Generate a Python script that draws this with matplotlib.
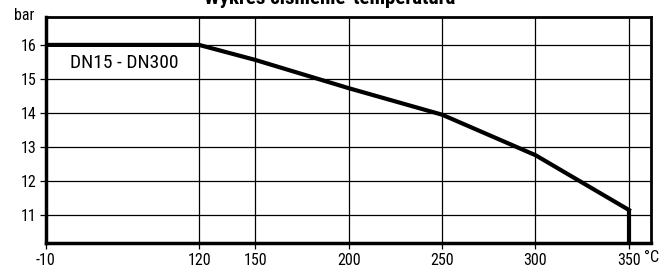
import numpy as np
import matplotlib
matplotlib.use("Agg")
import matplotlib.pyplot as plt

# pressure-temperature curve
temps = [-10, 120, 150, 200, 250, 300, 350]
pressures = [16, 16, 15.56, 14.73, 13.95, 12.76, 11.15]
xticks = [-10, 120, 150, 200, 250, 300, 350]
xgrid = [120, 150, 200, 250, 300, 350]
yticks = [11, 12, 13, 14, 15, 16]

plt.rcParams['font.family'] = ['Roboto Condensed', 'Archivo Narrow', 'DejaVu Sans']

# below 120 °C the axis is compressed
K = 0.63
def fwd(x):
    x = np.asarray(x, dtype=float)
    return np.where(x < 120, 120 + (x - 120) * K, x)
def inv(x):
    x = np.asarray(x, dtype=float)
    return np.where(x < 120, 120 + (x - 120) / K, x)

fig = plt.figure(figsize=(6.64, 2.71), dpi=100)
ax = fig.add_axes([46/664, 1 - 243/271, (651 - 46)/664, (243 - 17)/271])
ax.set_xscale('function', functions=(fwd, inv))
ax.set_xlim(-10, 361.8)
ax.set_ylim(10.18, 16.82)

for x in xgrid:
    ax.axvline(x, color='black', lw=0.9, zorder=1)
for y in yticks:
    ax.axhline(y, color='black', lw=0.9, zorder=1)

ax.plot(temps, pressures, color='black', lw=3, solid_joinstyle='miter', zorder=3)
ax.vlines(temps[-1], ax.get_ylim()[0], pressures[-1], color='black', lw=3, zorder=3)

ax.set_xticks(xticks)
ax.set_xticklabels([str(t) for t in xticks])
ax.set_yticks(yticks)
ax.tick_params(axis='both', labelsize=11.5, length=4, width=0.9, color='black', pad=3)
ax.xaxis.set_minor_locator(matplotlib.ticker.NullLocator())

for side in ['left', 'bottom']:
    ax.spines[side].set_linewidth(2.5)
for side in ['top', 'right']:
    ax.spines[side].set_linewidth(2)

ax.text(0.04, 0.796, 'DN15 - DN300', transform=ax.transAxes, fontsize=14,
        ha='left', va='center')
ax.annotate('°C', xy=(350, 10.18), xytext=(11, -5.3), textcoords='offset points',
            ha='left', va='top', fontsize=11.5)
fig.text(24/664, 1 - 15/271, 'bar', ha='center', va='center', fontsize=11.5)
fig.text(330/664, 1 - 4/271, 'Wykres ciśnienie-temperatura', ha='center',
         va='baseline', fontsize=15, fontweight='bold')

fig.savefig('out.png', dpi=100)
